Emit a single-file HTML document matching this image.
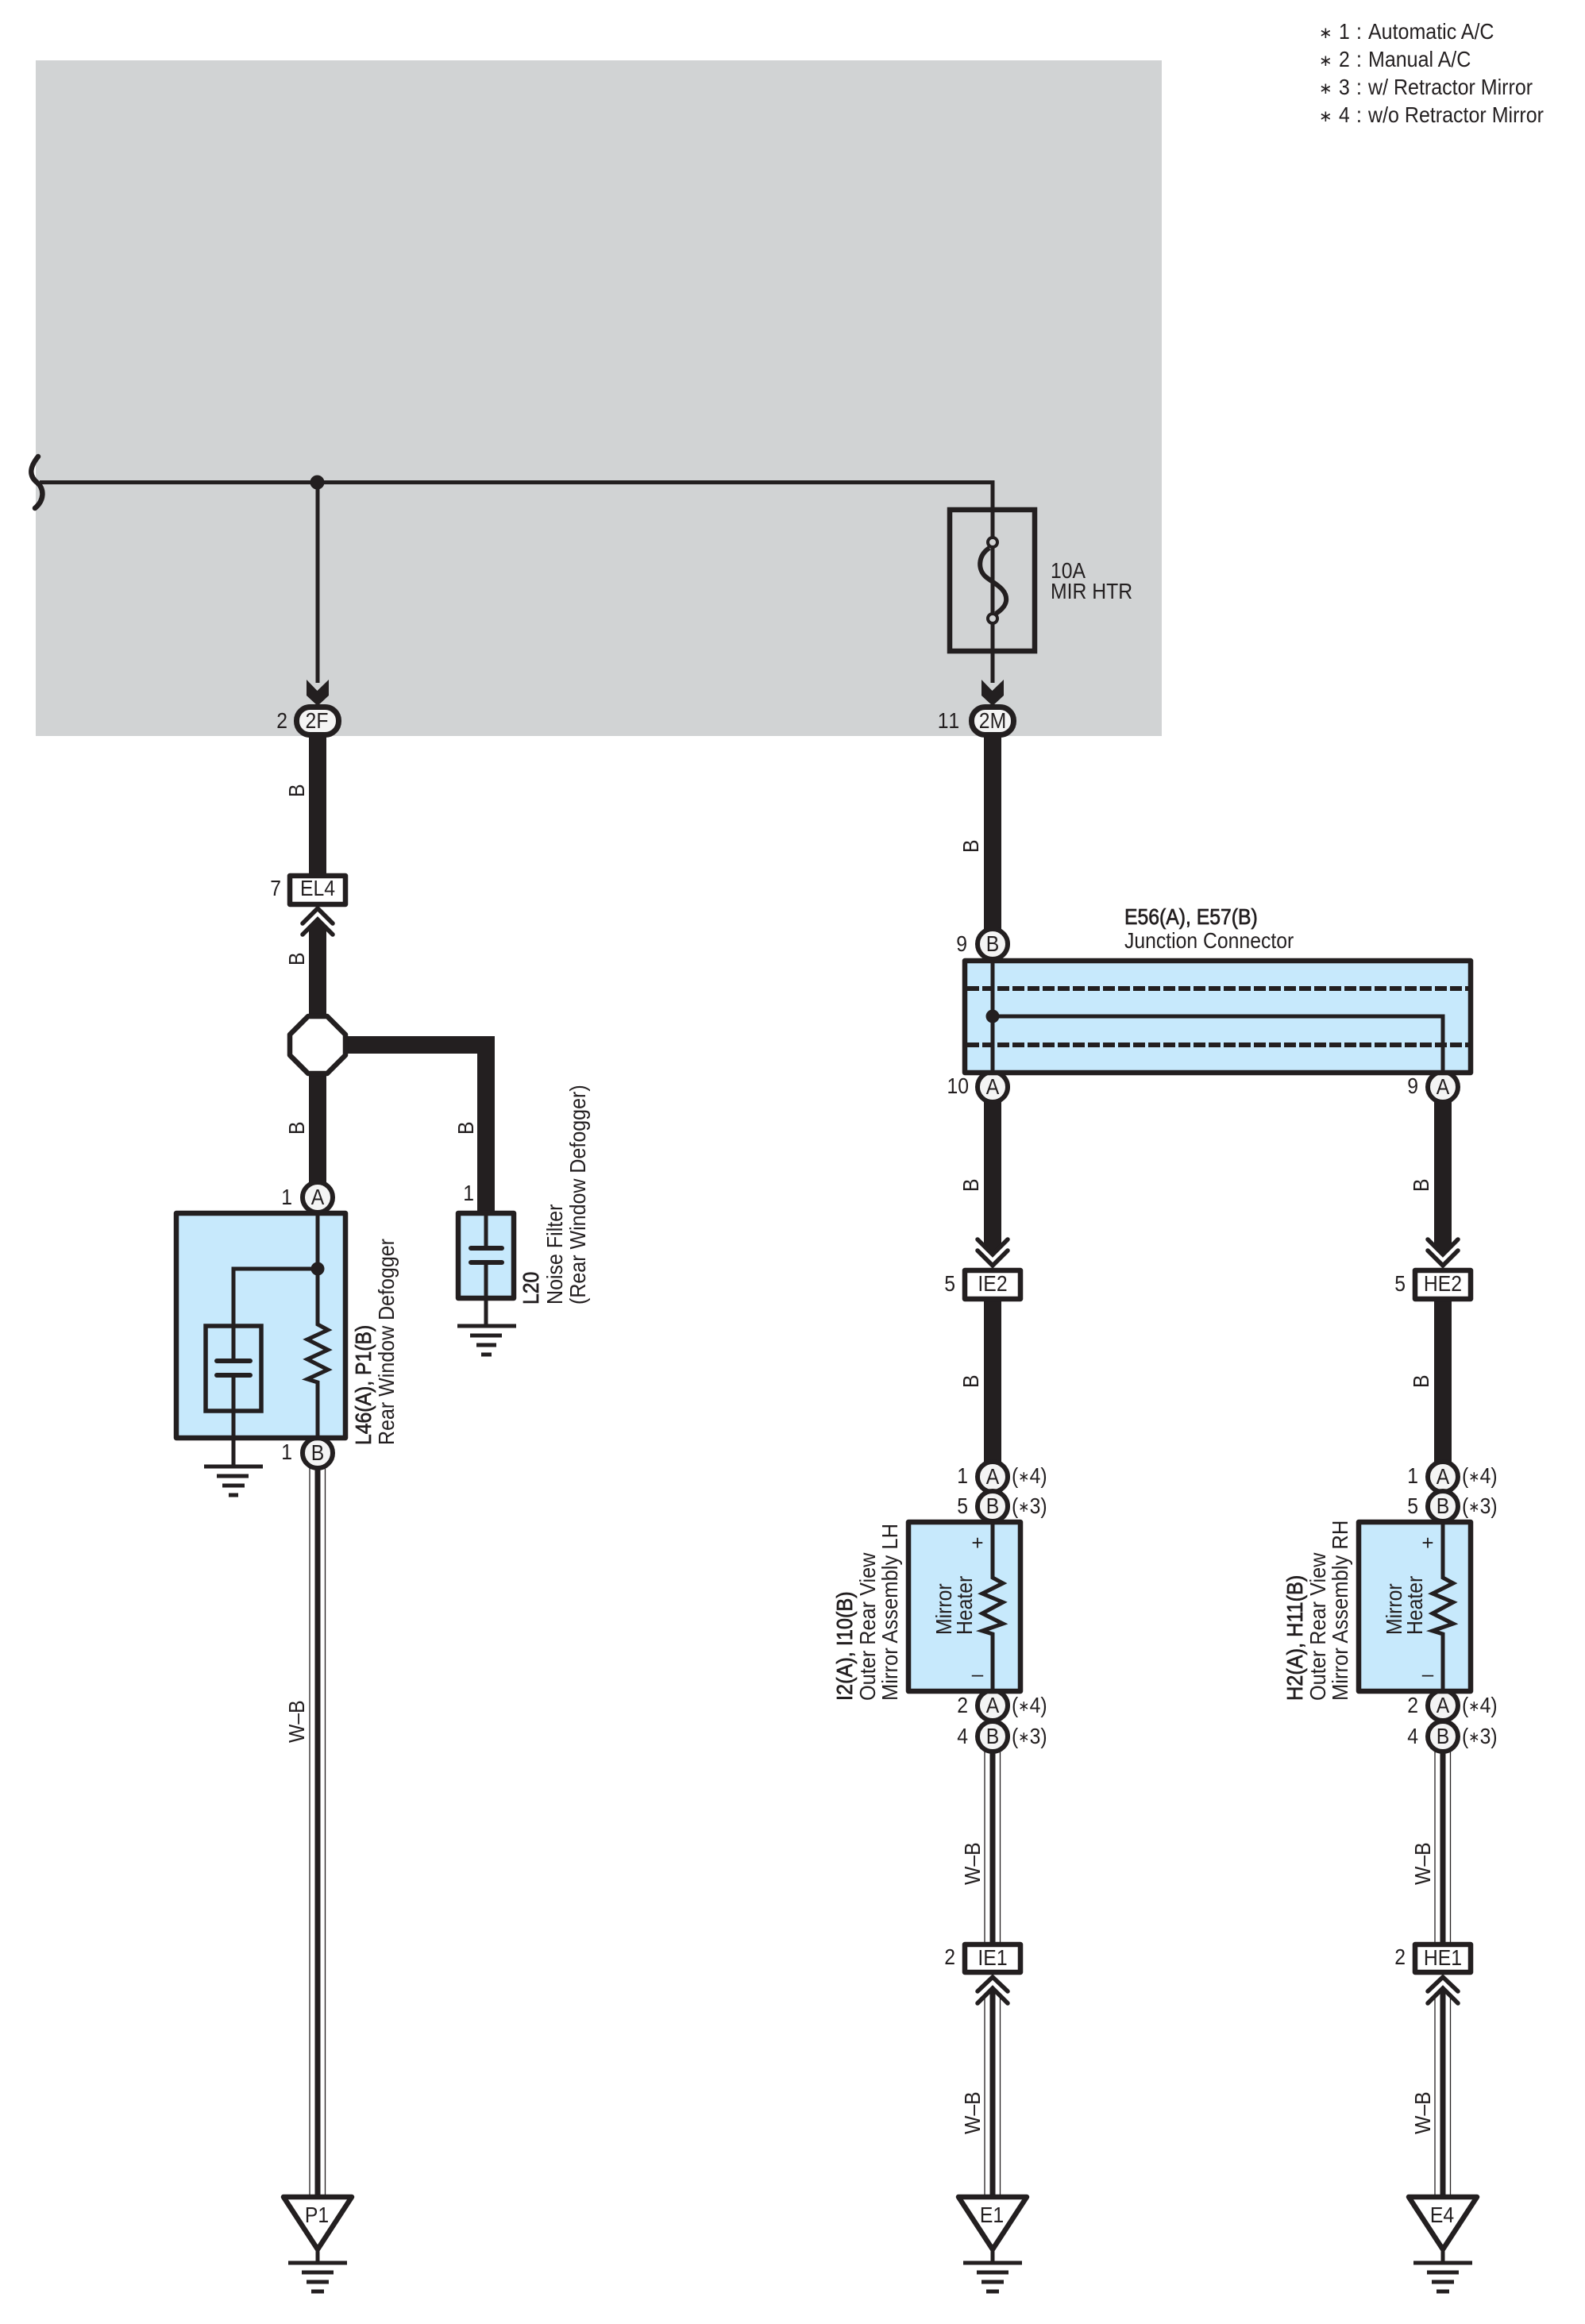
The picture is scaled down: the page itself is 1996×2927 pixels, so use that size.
<!DOCTYPE html>
<html><head><meta charset="utf-8"><title>Mirror heater wiring diagram</title>
<style>
html,body{margin:0;padding:0;background:#fff}
svg{display:block}
text{font-family:"Liberation Sans",sans-serif;font-size:27.5px;fill:#231f20}
.s{font-family:"DejaVu Sans",sans-serif;font-size:19px}
.b{stroke:#231f20;stroke-width:.7px}
.m{text-anchor:middle}
.e{text-anchor:end}
.l{fill:none;stroke:#231f20;stroke-linejoin:miter}
.w5{stroke-width:5}
.w6{stroke-width:6.5}
.th{stroke-width:22}
.c{fill:#f4f4f4;stroke:#231f20;stroke-width:6}
.p{fill:#f4f4f4;stroke:#231f20;stroke-width:7}
.bx{fill:#c7e9fc;stroke:#231f20;stroke-width:6.5;stroke-linejoin:round}
.wb{fill:#fff;stroke:#231f20;stroke-width:6.5;stroke-linejoin:round}
.r{stroke-linecap:round}
.f{fill:#231f20}
</style></head><body>
<svg width="1996" height="2927" viewBox="0 0 1996 2927" xmlns="http://www.w3.org/2000/svg">
<rect x="0" y="0" width="1996" height="2927" fill="#fff"/>
<rect x="45" y="76" width="1418" height="851" fill="#d1d3d4"/>

<!-- legend -->
<text class="s" style="font-size:20px" x="1661" y="48">∗</text><text transform="translate(1686 49) scale(.9 1)">1</text><text transform="translate(1708 49) scale(.9 1)">:</text><text transform="translate(1723 49) scale(.91 1)">Automatic A/C</text>
<text class="s" style="font-size:20px" x="1661" y="83">∗</text><text transform="translate(1686 84) scale(.9 1)">2</text><text transform="translate(1708 84) scale(.9 1)">:</text><text transform="translate(1723 84) scale(.91 1)">Manual A/C</text>
<text class="s" style="font-size:20px" x="1661" y="118">∗</text><text transform="translate(1686 119) scale(.9 1)">3</text><text transform="translate(1708 119) scale(.9 1)">:</text><text transform="translate(1723 119) scale(.91 1)">w/ Retractor Mirror</text>
<text class="s" style="font-size:20px" x="1661" y="153">∗</text><text transform="translate(1686 154) scale(.9 1)">4</text><text transform="translate(1708 154) scale(.9 1)">:</text><text transform="translate(1723 154) scale(.91 1)">w/o Retractor Mirror</text>

<!-- main bus -->
<path class="l w5" d="M50 607.5H1250V860"/>
<path class="l w5" d="M400 607.5V860"/>
<circle cx="399.5" cy="607.5" r="9" fill="#231f20"/>
<path class="l r" stroke-width="6.5" d="M48 575C36 590 37 600 47 608C56 616 56 630 44 640"/>

<!-- fuse -->
<rect class="l w6" x="1196" y="642" width="107" height="178"/>
<path class="l w5" d="M1250 785V856"/>
<path class="l" stroke-width="6" d="M1246 690C1231 700 1231 718 1242 727C1252 735 1269 742 1267 757C1266 764 1260 769 1254 773"/>
<circle cx="1250" cy="683" r="6" fill="#d1d3d4" stroke="#231f20" stroke-width="4"/>
<circle cx="1250" cy="779" r="6" fill="#d1d3d4" stroke="#231f20" stroke-width="4"/>
<text transform="translate(1323 728) scale(.9 1)">10A</text>
<text transform="translate(1323 754) scale(.9 1)">MIR HTR</text>

<!-- thick wires left -->
<path class="l th" d="M400 925V1102M400 1350V1490"/>
<polygon class="f" points="389,1280 389,1169 400,1158 411,1169 411,1280"/>
<path class="l th" d="M435 1316H612V1526"/>
<!-- thick wires right -->
<path class="l th" d="M1250 925V1172M1250 1637V1842"/>
<polygon class="f" points="1239,1386 1239,1569 1250,1580 1261,1569 1261,1386"/>
<path class="l th" d="M1817 1637V1842"/>
<polygon class="f" points="1806,1386 1806,1569 1817,1580 1828,1569 1828,1386"/>

<!-- arrows at 2F / 2M -->
<polygon fill="#231f20" points="386,856 399.5,870 414,856 414,876 400,889 386,876"/>
<polygon fill="#231f20" points="1236,856 1249.5,870 1264,856 1264,876 1250,889 1236,876"/>
<rect class="p" x="373.5" y="890.5" width="53" height="35" rx="17"/>
<rect class="p" x="1223.5" y="890.5" width="53" height="35" rx="17"/>
<text class="m" transform="translate(399 917) scale(.9 1)">2F</text>
<text class="m" transform="translate(1250 917) scale(.9 1)">2M</text>
<text class="e" transform="translate(362 917) scale(.9 1)">2</text>
<text class="e" transform="translate(1210 917) scale(.9 1)" style="letter-spacing:2px">11</text>

<!-- EL4 -->
<path class="l r" stroke-width="5.5" d="M381 1163L400 1144L419 1163M381 1177L400 1158L419 1177"/>
<rect class="wb" x="365" y="1103" width="70" height="36"/>
<text class="m" transform="translate(400 1128) scale(.9 1)">EL4</text>
<text class="e" transform="translate(354 1128) scale(.9 1)">7</text>
<text transform="translate(383 1004) rotate(-90) scale(.9 1)">B</text>
<text transform="translate(383 1216) rotate(-90) scale(.9 1)">B</text>
<text transform="translate(383 1429) rotate(-90) scale(.9 1)">B</text>
<text transform="translate(596 1429) rotate(-90) scale(.9 1)">B</text>

<!-- splice octagon -->
<polygon class="wb" points="388,1280 412,1280 435,1303 435,1329 412,1352 388,1352 365,1329 365,1303"/>

<!-- L46 -->
<circle class="c" cx="400" cy="1508" r="19"/>
<circle class="c" cx="400" cy="1830" r="19"/>
<rect class="bx" x="222" y="1528" width="213" height="283"/>
<path class="l w5" d="M400 1528V1668L413 1675L387 1687L413 1700L387 1712L413 1725L387 1737L400 1741V1811"/>
<path class="l w5" d="M400 1598H294V1714M294 1732V1847"/>
<circle cx="400" cy="1598" r="8.5" fill="#231f20"/>
<rect class="l" stroke-width="5.5" x="259" y="1670" width="70" height="107"/>
<path class="l r" stroke-width="6" d="M273 1714H315M273 1732H315"/>
<path class="l w5" d="M257 1847H331M273 1859H313M280 1871H308M288 1883H300"/>
<text class="m" transform="translate(400 1517) scale(.9 1)">A</text>
<text class="m" transform="translate(400 1839) scale(.9 1)">B</text>
<text class="e" transform="translate(368 1517) scale(.9 1)">1</text>
<text class="e" transform="translate(368 1838) scale(.9 1)">1</text>
<text class="b" transform="translate(467 1820) rotate(-90) scale(.9 1)">L46(A), P1(B)</text>
<text transform="translate(496 1820) rotate(-90) scale(.91 1)">Rear Window Defogger</text>

<!-- L20 -->
<rect class="bx" x="577" y="1528" width="70" height="107"/>
<path class="l w5" d="M612 1526V1572M612 1590V1670"/>
<path class="l r" stroke-width="6" d="M593 1572H632M593 1590H632"/>
<path class="l w5" d="M576 1670H650M592 1682H632M600 1694H625M606 1706H619"/>
<text class="e" transform="translate(597 1512) scale(.9 1)">1</text>
<text class="b" transform="translate(678 1643) rotate(-90) scale(.9 1)">L20</text>
<text transform="translate(708 1643) rotate(-90) scale(.91 1)">Noise Filter</text>
<text transform="translate(737 1643) rotate(-90) scale(.91 1)">(Rear Window Defogger)</text>

<!-- P1 wire + ground -->
<path class="l" stroke-width="7" d="M400 1849V2767"/>
<path class="l" stroke-width="1.3" d="M390 1849V2767M409.5 1849V2767"/>
<text transform="translate(383 2195) rotate(-90) scale(.9 1)">W–B</text>
<polygon class="wb" points="357,2767 443,2767 400,2833"/>
<path class="l w5" d="M400 2833V2850M363 2850H437M380 2862H420M386 2874H414M392 2886H408"/>
<text class="m" transform="translate(399 2799) scale(.9 1)">P1</text>

<!-- Junction connector -->
<circle class="c" cx="1250" cy="1189" r="19"/>
<circle class="c" cx="1250" cy="1369" r="19"/>
<circle class="c" cx="1817" cy="1369" r="19"/>
<rect class="bx" x="1215" y="1210" width="637" height="141"/>
<path class="l" stroke-width="6" stroke-dasharray="15 4" d="M1218 1245H1850M1218 1316H1850"/>
<path class="l w5" d="M1250 1208V1352M1250 1280H1817V1352"/>
<circle cx="1250" cy="1280" r="8.5" fill="#231f20"/>
<text class="m" transform="translate(1250 1198) scale(.9 1)">B</text>
<text class="m" transform="translate(1250 1378) scale(.9 1)">A</text>
<text class="m" transform="translate(1817 1378) scale(.9 1)">A</text>
<text class="e" transform="translate(1218 1198) scale(.9 1)">9</text>
<text class="e" transform="translate(1220 1377) scale(.9 1)">10</text>
<text class="e" transform="translate(1786 1377) scale(.9 1)">9</text>
<text class="b" transform="translate(1416 1164) scale(.9 1)">E56(A), E57(B)</text>
<text transform="translate(1416 1194) scale(.9 1)">Junction Connector</text>
<text transform="translate(1232 1074) rotate(-90) scale(.9 1)">B</text>

<!-- left mirror column -->
<g>
<text transform="translate(1232 1501) rotate(-90) scale(.9 1)">B</text>
<path class="l r" stroke-width="5.5" d="M1231 1561L1250 1580L1269 1561M1231 1575L1250 1594L1269 1575"/>
<rect class="wb" x="1215" y="1600" width="70" height="36"/>
<text class="m" transform="translate(1250 1626) scale(.9 1)">IE2</text>
<text class="e" transform="translate(1203 1626) scale(.9 1)">5</text>
<text transform="translate(1232 1748) rotate(-90) scale(.9 1)">B</text>
<circle class="c" cx="1250" cy="1860" r="19"/>
<circle class="c" cx="1250" cy="1897" r="19"/>
<text class="m" transform="translate(1250 1869) scale(.9 1)">A</text>
<text class="m" transform="translate(1250 1906) scale(.9 1)">B</text>
<text class="e" transform="translate(1219 1868) scale(.9 1)">1</text>
<text class="e" transform="translate(1219 1906) scale(.9 1)">5</text>
<text transform="translate(1274 1868) scale(.9 1)">(<tspan class="s" dy="-2">∗</tspan><tspan dy="2">4)</tspan></text>
<text transform="translate(1274 1906) scale(.9 1)">(<tspan class="s" dy="-2">∗</tspan><tspan dy="2">3)</tspan></text>
<circle class="c" cx="1250" cy="2148" r="19"/>
<circle class="c" cx="1250" cy="2187" r="19"/>
<rect class="bx" x="1144" y="1917" width="141" height="213"/>
<path class="l w5" d="M1250 1917V1987L1263 1994L1237 2007L1263 2018L1237 2032L1263 2045L1237 2054L1250 2058V2130"/>
<text class="m" style="font-size:26px" x="1231" y="1952">+</text>
<text class="m" style="font-size:26px" x="1231" y="2117">–</text>
<text transform="translate(1198 2059) rotate(-90) scale(.9 1)">Mirror</text>
<text transform="translate(1224 2059) rotate(-90) scale(.9 1)">Heater</text>
<text class="b" transform="translate(1073 2142) rotate(-90) scale(.92 1)">I2(A), I10(B)</text>
<text transform="translate(1102 2142) rotate(-90) scale(.92 1)">Outer Rear View</text>
<text transform="translate(1130 2142) rotate(-90) scale(.93 1)">Mirror Assembly LH</text>
<text class="m" transform="translate(1250 2157) scale(.9 1)">A</text>
<text class="m" transform="translate(1250 2196) scale(.9 1)">B</text>
<text class="e" transform="translate(1219 2157) scale(.9 1)">2</text>
<text class="e" transform="translate(1219 2196) scale(.9 1)">4</text>
<text transform="translate(1274 2157) scale(.9 1)">(<tspan class="s" dy="-2">∗</tspan><tspan dy="2">4)</tspan></text>
<text transform="translate(1274 2196) scale(.9 1)">(<tspan class="s" dy="-2">∗</tspan><tspan dy="2">3)</tspan></text>
<path class="l" stroke-width="7" d="M1250 2206V2449M1250 2506V2767"/>
<path class="l" stroke-width="1.3" d="M1240 2206V2450M1259.5 2206V2450M1240 2514V2767M1259.5 2514V2767"/>
<text transform="translate(1234 2374) rotate(-90) scale(.9 1)">W–B</text>
<rect class="wb" x="1215" y="2449" width="70" height="35"/>
<text class="m" transform="translate(1250 2475) scale(.9 1)">IE1</text>
<text class="e" transform="translate(1203 2474) scale(.9 1)">2</text>
<path class="l r" stroke-width="5.5" d="M1231 2508L1250 2490L1269 2508M1231 2523L1250 2504L1269 2523"/>
<text transform="translate(1234 2688) rotate(-90) scale(.9 1)">W–B</text>
<polygon class="wb" points="1207,2767 1293,2767 1250,2833"/>
<path class="l w5" d="M1250 2833V2850M1213 2850H1287M1230 2862H1270M1236 2874H1264M1242 2886H1258"/>
<text class="m" transform="translate(1249 2799) scale(.9 1)">E1</text>
</g>

<!-- right mirror column -->
<g transform="translate(567 0)">
<text transform="translate(1232 1501) rotate(-90) scale(.9 1)">B</text>
<path class="l r" stroke-width="5.5" d="M1231 1561L1250 1580L1269 1561M1231 1575L1250 1594L1269 1575"/>
<rect class="wb" x="1215" y="1600" width="70" height="36"/>
<text class="m" transform="translate(1250 1626) scale(.9 1)">HE2</text>
<text class="e" transform="translate(1203 1626) scale(.9 1)">5</text>
<text transform="translate(1232 1748) rotate(-90) scale(.9 1)">B</text>
<circle class="c" cx="1250" cy="1860" r="19"/>
<circle class="c" cx="1250" cy="1897" r="19"/>
<text class="m" transform="translate(1250 1869) scale(.9 1)">A</text>
<text class="m" transform="translate(1250 1906) scale(.9 1)">B</text>
<text class="e" transform="translate(1219 1868) scale(.9 1)">1</text>
<text class="e" transform="translate(1219 1906) scale(.9 1)">5</text>
<text transform="translate(1274 1868) scale(.9 1)">(<tspan class="s" dy="-2">∗</tspan><tspan dy="2">4)</tspan></text>
<text transform="translate(1274 1906) scale(.9 1)">(<tspan class="s" dy="-2">∗</tspan><tspan dy="2">3)</tspan></text>
<circle class="c" cx="1250" cy="2148" r="19"/>
<circle class="c" cx="1250" cy="2187" r="19"/>
<rect class="bx" x="1144" y="1917" width="141" height="213"/>
<path class="l w5" d="M1250 1917V1987L1263 1994L1237 2007L1263 2018L1237 2032L1263 2045L1237 2054L1250 2058V2130"/>
<text class="m" style="font-size:26px" x="1231" y="1952">+</text>
<text class="m" style="font-size:26px" x="1231" y="2117">–</text>
<text transform="translate(1198 2059) rotate(-90) scale(.9 1)">Mirror</text>
<text transform="translate(1224 2059) rotate(-90) scale(.9 1)">Heater</text>
<text class="b" transform="translate(1073 2142) rotate(-90) scale(.92 1)">H2(A), H11(B)</text>
<text transform="translate(1102 2142) rotate(-90) scale(.92 1)">Outer Rear View</text>
<text transform="translate(1130 2142) rotate(-90) scale(.93 1)">Mirror Assembly RH</text>
<text class="m" transform="translate(1250 2157) scale(.9 1)">A</text>
<text class="m" transform="translate(1250 2196) scale(.9 1)">B</text>
<text class="e" transform="translate(1219 2157) scale(.9 1)">2</text>
<text class="e" transform="translate(1219 2196) scale(.9 1)">4</text>
<text transform="translate(1274 2157) scale(.9 1)">(<tspan class="s" dy="-2">∗</tspan><tspan dy="2">4)</tspan></text>
<text transform="translate(1274 2196) scale(.9 1)">(<tspan class="s" dy="-2">∗</tspan><tspan dy="2">3)</tspan></text>
<path class="l" stroke-width="7" d="M1250 2206V2449M1250 2506V2767"/>
<path class="l" stroke-width="1.3" d="M1240 2206V2450M1259.5 2206V2450M1240 2514V2767M1259.5 2514V2767"/>
<text transform="translate(1234 2374) rotate(-90) scale(.9 1)">W–B</text>
<rect class="wb" x="1215" y="2449" width="70" height="35"/>
<text class="m" transform="translate(1250 2475) scale(.9 1)">HE1</text>
<text class="e" transform="translate(1203 2474) scale(.9 1)">2</text>
<path class="l r" stroke-width="5.5" d="M1231 2508L1250 2490L1269 2508M1231 2523L1250 2504L1269 2523"/>
<text transform="translate(1234 2688) rotate(-90) scale(.9 1)">W–B</text>
<polygon class="wb" points="1207,2767 1293,2767 1250,2833"/>
<path class="l w5" d="M1250 2833V2850M1213 2850H1287M1230 2862H1270M1236 2874H1264M1242 2886H1258"/>
<text class="m" transform="translate(1249 2799) scale(.9 1)">E4</text>
</g>
</svg>
</body></html>
